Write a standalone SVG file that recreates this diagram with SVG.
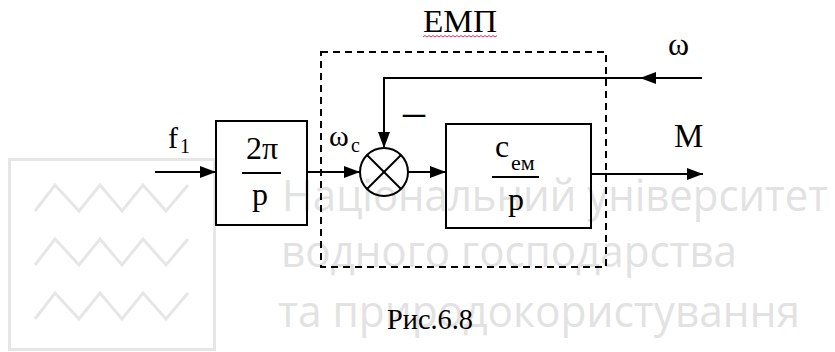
<svg xmlns="http://www.w3.org/2000/svg" width="835" height="352" viewBox="0 0 835 352">
<defs>
<marker id="ah" markerUnits="userSpaceOnUse" markerWidth="16" markerHeight="12" viewBox="0 0 16 12" refX="16" refY="6" orient="auto">
<path d="M0,0 L16,6 L0,12 Z" fill="#000"/>
</marker>
</defs>
<rect width="835" height="352" fill="#fff"/>
<g id="watermark" fill="none" stroke="#e6e6e6" stroke-width="3">
<rect x="9.5" y="159.5" width="205" height="190"/>
<polyline points="35,211 55,185 79,211 100,185 122,211 143,185 166,211 188,185"/>
<polyline points="35,265 55,239 79,265 100,239 122,265 143,239 166,265 188,239"/>
<polyline points="35,319 55,293 79,319 100,293 122,319 143,293 166,319 188,293"/>
</g>
<g id="watermark-text" fill="#e2e2e2">
<text x="282" y="211" font-family="Open Sans" font-size="44" textLength="546" lengthAdjust="spacingAndGlyphs">Національний університет</text>
<text x="281" y="267" font-family="Open Sans" font-size="44" textLength="456" lengthAdjust="spacingAndGlyphs">водного господарства</text>
<text x="278" y="327" font-family="Open Sans" font-size="44" textLength="522" lengthAdjust="spacingAndGlyphs">та природокористування</text>
</g>
<g id="emp">
<rect x="321" y="52" width="285" height="215" fill="none" stroke="#000" stroke-width="2" stroke-dasharray="7 5"/>
<text x="423" y="32" fill="#000" font-family="Liberation Serif" font-size="32" textLength="74" lengthAdjust="spacingAndGlyphs">ЕМП</text>
<polyline points="423,37 425,35.5 427,37 429,35.5 431,37 433,35.5 435,37 437,35.5 439,37 441,35.5 443,37 445,35.5 447,37 449,35.5 451,37 453,35.5 455,37 457,35.5 459,37 461,35.5 463,37 465,35.5 467,37 469,35.5 471,37 473,35.5 475,37 477,35.5 479,37 481,35.5 483,37 485,35.5 487,37 489,35.5 491,37 493,35.5 495,37 497,35.5" fill="none" stroke="#d8306a" stroke-width="1"/>
</g>
<g id="connectors" fill="none" stroke="#000" stroke-width="2">
<path d="M155,172 H216" marker-end="url(#ah)"/>
<path d="M307,172 H360" marker-end="url(#ah)"/>
<path d="M408,172 H446" marker-end="url(#ah)"/>
<path d="M591,174 H703" marker-end="url(#ah)"/>
<path d="M702,78 H640" marker-end="url(#ah)"/>
<path d="M641,78 H384 V148" marker-end="url(#ah)"/>
</g>
<g id="block1">
<rect x="216" y="121" width="91" height="104" fill="none" stroke="#000" stroke-width="2"/>
<text x="262" y="159" fill="#000" font-family="Liberation Serif" font-size="32" text-anchor="middle">2π</text>
<line x1="242" y1="173" x2="281" y2="173" stroke="#000" stroke-width="2"/>
<text x="260" y="205" fill="#000" font-family="Liberation Serif" font-size="32" text-anchor="middle">p</text>
</g>
<g id="summer" fill="none" stroke="#000" stroke-width="2">
<circle cx="384" cy="172" r="24"/>
<line x1="367" y1="155" x2="401" y2="189"/>
<line x1="401" y1="155" x2="367" y2="189"/>
</g>
<g id="block2">
<rect x="446" y="124" width="145" height="104" fill="none" stroke="#000" stroke-width="2"/>
<text x="495" y="157" fill="#000" font-family="Liberation Serif" font-size="32">c</text>
<text x="511" y="170" fill="#000" font-family="Liberation Serif" font-size="22">ем</text>
<line x1="492" y1="177" x2="539" y2="177" stroke="#000" stroke-width="2"/>
<text x="516" y="210" fill="#000" font-family="Liberation Serif" font-size="32" text-anchor="middle">p</text>
</g>
<g id="labels" fill="#000">
<text x="168" y="148" font-family="Liberation Serif" font-size="30">f</text>
<text x="180" y="153" font-family="Liberation Serif" font-size="20">1</text>
<text x="329" y="146" font-family="Liberation Serif" font-size="30">ω</text>
<text x="351" y="152" font-family="Liberation Serif" font-size="20">c</text>
<text x="403" y="126" font-family="Liberation Serif" font-size="44">–</text>
<text x="668" y="55" font-family="Liberation Serif" font-size="32">ω</text>
<text x="674" y="147" font-family="Liberation Serif" font-size="33">M</text>
<text x="387" y="329" font-family="Liberation Serif" font-size="29" textLength="86" lengthAdjust="spacingAndGlyphs">Рис.6.8</text>
</g>
</svg>
